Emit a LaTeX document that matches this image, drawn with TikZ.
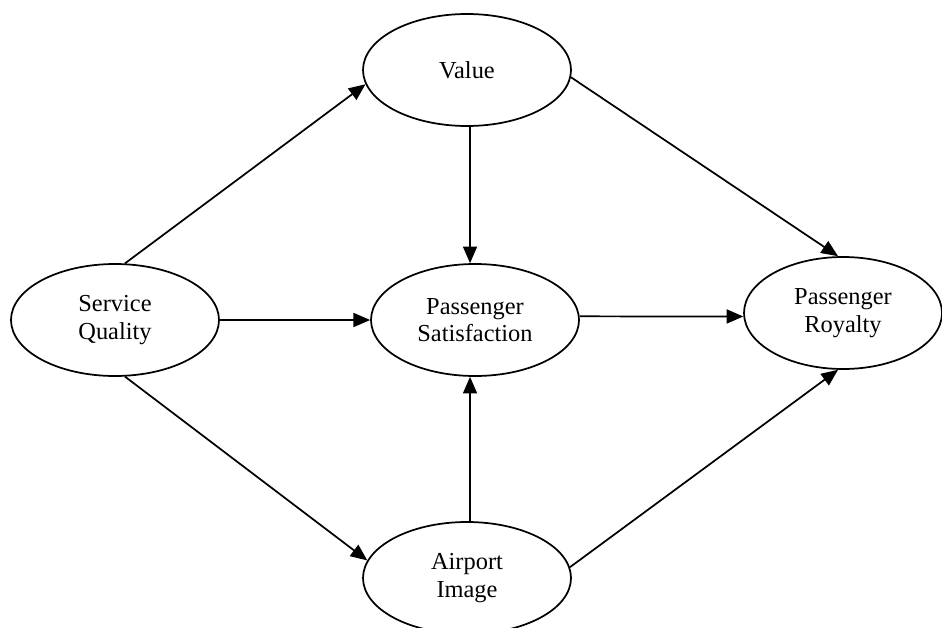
\documentclass[tikz,border=0pt]{standalone}
\usepackage{fontspec}
\setmainfont{Liberation Serif}
\usetikzlibrary{shapes.geometric,arrows.meta}

\tikzset{
	construct/.style={draw, ellipse, line width=1.3pt, minimum width=156pt, minimum height=84pt, inner sep=0pt, align=center, font=\fontsize{18.3}{20.5}\selectfont},
	link/.style={line width=1.3pt, -{Triangle[length=12.5pt,width=10.5pt]}}
}

\begin{document}
\begin{tikzpicture}[x=0.75pt,y=0.75pt,yscale=-1,xscale=1]
	\useasboundingbox (0,0) rectangle (942,628);

	%Shape: Ellipse [id:construct nodes]
	\node [construct] (sq) at (115,320) {Service\\Quality};
	\node [construct] (value) at (467,70) {Value};
	\node [construct] (sat) at (475,320) {Passenger\\Satisfaction};
	\node [construct, minimum width=148.5pt] (royalty) at (843,313) {Passenger\\Royalty};
	\node [construct] (airport) at (467,578) {Airport\\Image};

	%Straight Lines [id:links]
	\draw [link] (sq.80) -- (value.188);
	\draw [link] (sq.east) -- (sat.west);
	\draw [link] (sq.280) -- (airport.170);
	\draw [link] (value.273) -- (sat.95);
	\draw [link] (airport.87) -- (sat.265);
	\draw [link] (value.356) -- (royalty.95);
	\draw [link] (sat.2) -- (royalty.182);
	\draw [link] (airport.6) -- (royalty.265);

\end{tikzpicture}
\end{document}
